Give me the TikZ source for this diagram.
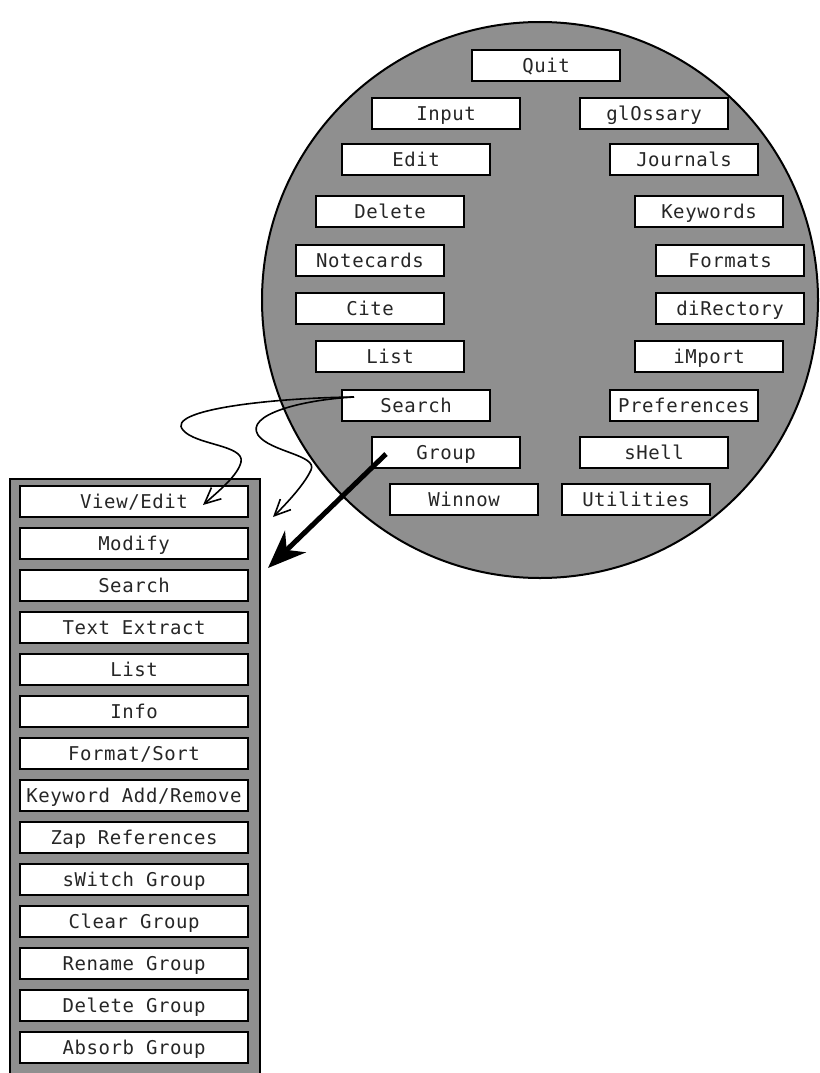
\documentclass[tikz,border=0pt]{standalone}
\usepackage{fontspec}
\newfontfamily\menufont{DejaVu Sans Mono}[LetterSpace=3]
\usetikzlibrary{arrows.meta}
\definecolor{menugray}{RGB}{143,143,143}
\begin{document}
\begin{tikzpicture}[x=1pt,y=-1pt,
  mbox/.style={draw, line width=2pt, fill=white, minimum width=148pt, minimum height=31pt,
    inner sep=0pt, text height=13.8pt, text depth=0pt, text=black!85, font=\menufont\fontsize{19}{22}\selectfont},
  sbox/.style={mbox, minimum width=228pt},
  thinarrow/.style={line width=1.6pt, -{Straight Barb[length=16pt,width=15pt]}},
  thickarrow/.style={line width=5pt, -{Stealth[length=38pt,width=30pt,inset=12pt]}}]
\useasboundingbox (0,0) rectangle (819,1073);
% main circle
\node[circle, draw, line width=2pt, fill=menugray, minimum size=556pt, inner sep=0pt] (menu) at (540,300) {};
% main menu items
\node[mbox] (quit) at (546,65.5) {Quit};
\node[mbox] (input) at (446,113.5) {Input};
\node[mbox] (glossary) at (654,113.5) {glOssary};
\node[mbox] (edit) at (416,159.5) {Edit};
\node[mbox] (journals) at (684,159.5) {Journals};
\node[mbox] (delete) at (390,211.5) {Delete};
\node[mbox] (keywords) at (709,211.5) {Keywords};
\node[mbox] (notecards) at (370,260.5) {Notecards};
\node[mbox] (formats) at (730,260.5) {Formats};
\node[mbox] (cite) at (370,308.5) {Cite};
\node[mbox] (directory) at (730,308.5) {diRectory};
\node[mbox] (list) at (390,356.5) {List};
\node[mbox] (import) at (709,356.5) {iMport};
\node[mbox] (search) at (416,405.5) {Search};
\node[mbox] (preferences) at (684,405.5) {Preferences};
\node[mbox] (group) at (446,452.5) {Group};
\node[mbox] (shell) at (654,452.5) {sHell};
\node[mbox] (winnow) at (464,499.5) {Winnow};
\node[mbox] (utilities) at (636,499.5) {Utilities};
% submenu panel
\node[draw, line width=2pt, fill=menugray, minimum width=250pt, minimum height=640pt,
  inner sep=0pt, anchor=north west] (panel) at (9,478) {};
\node[sbox] (s1) at (134,501.5) {View/Edit};
\node[sbox] (s2) at (134,543.5) {Modify};
\node[sbox] (s3) at (134,585.5) {Search};
\node[sbox] (s4) at (134,627.5) {Text Extract};
\node[sbox] (s5) at (134,669.5) {List};
\node[sbox] (s6) at (134,711.5) {Info};
\node[sbox] (s7) at (134,753.5) {Format/Sort};
\node[sbox] (s8) at (134,795.5) {Keyword Add/Remove};
\node[sbox] (s9) at (134,837.5) {Zap References};
\node[sbox] (s10) at (134,879.5) {sWitch Group};
\node[sbox] (s11) at (134,921.5) {Clear Group};
\node[sbox] (s12) at (134,963.5) {Rename Group};
\node[sbox] (s13) at (134,1005.5) {Delete Group};
\node[sbox] (s14) at (134,1047.5) {Absorb Group};
% connectors
\coordinate (sstart) at ([shift={(13,-8.5)}]search.west);
\coordinate (gstart) at ([shift={(15,1.5)}]group.west);
\coordinate (t1) at (203,505);
\coordinate (t2) at (273,517);
\coordinate (t3) at (268,568);
\draw[thinarrow] (sstart) .. controls (270,398) and (165,410) .. (183,430)
  .. controls (195,445) and (245,445) .. (241,462)
  .. controls (238,475) and (220,490) .. (t1);
\draw[thinarrow] (sstart) .. controls (300,400) and (245,415) .. (258,435)
  .. controls (270,452) and (318,455) .. (311,470)
  .. controls (305,483) and (290,500) .. (t2);
\draw[thickarrow] (gstart) -- (t3);
\end{tikzpicture}
\end{document}
